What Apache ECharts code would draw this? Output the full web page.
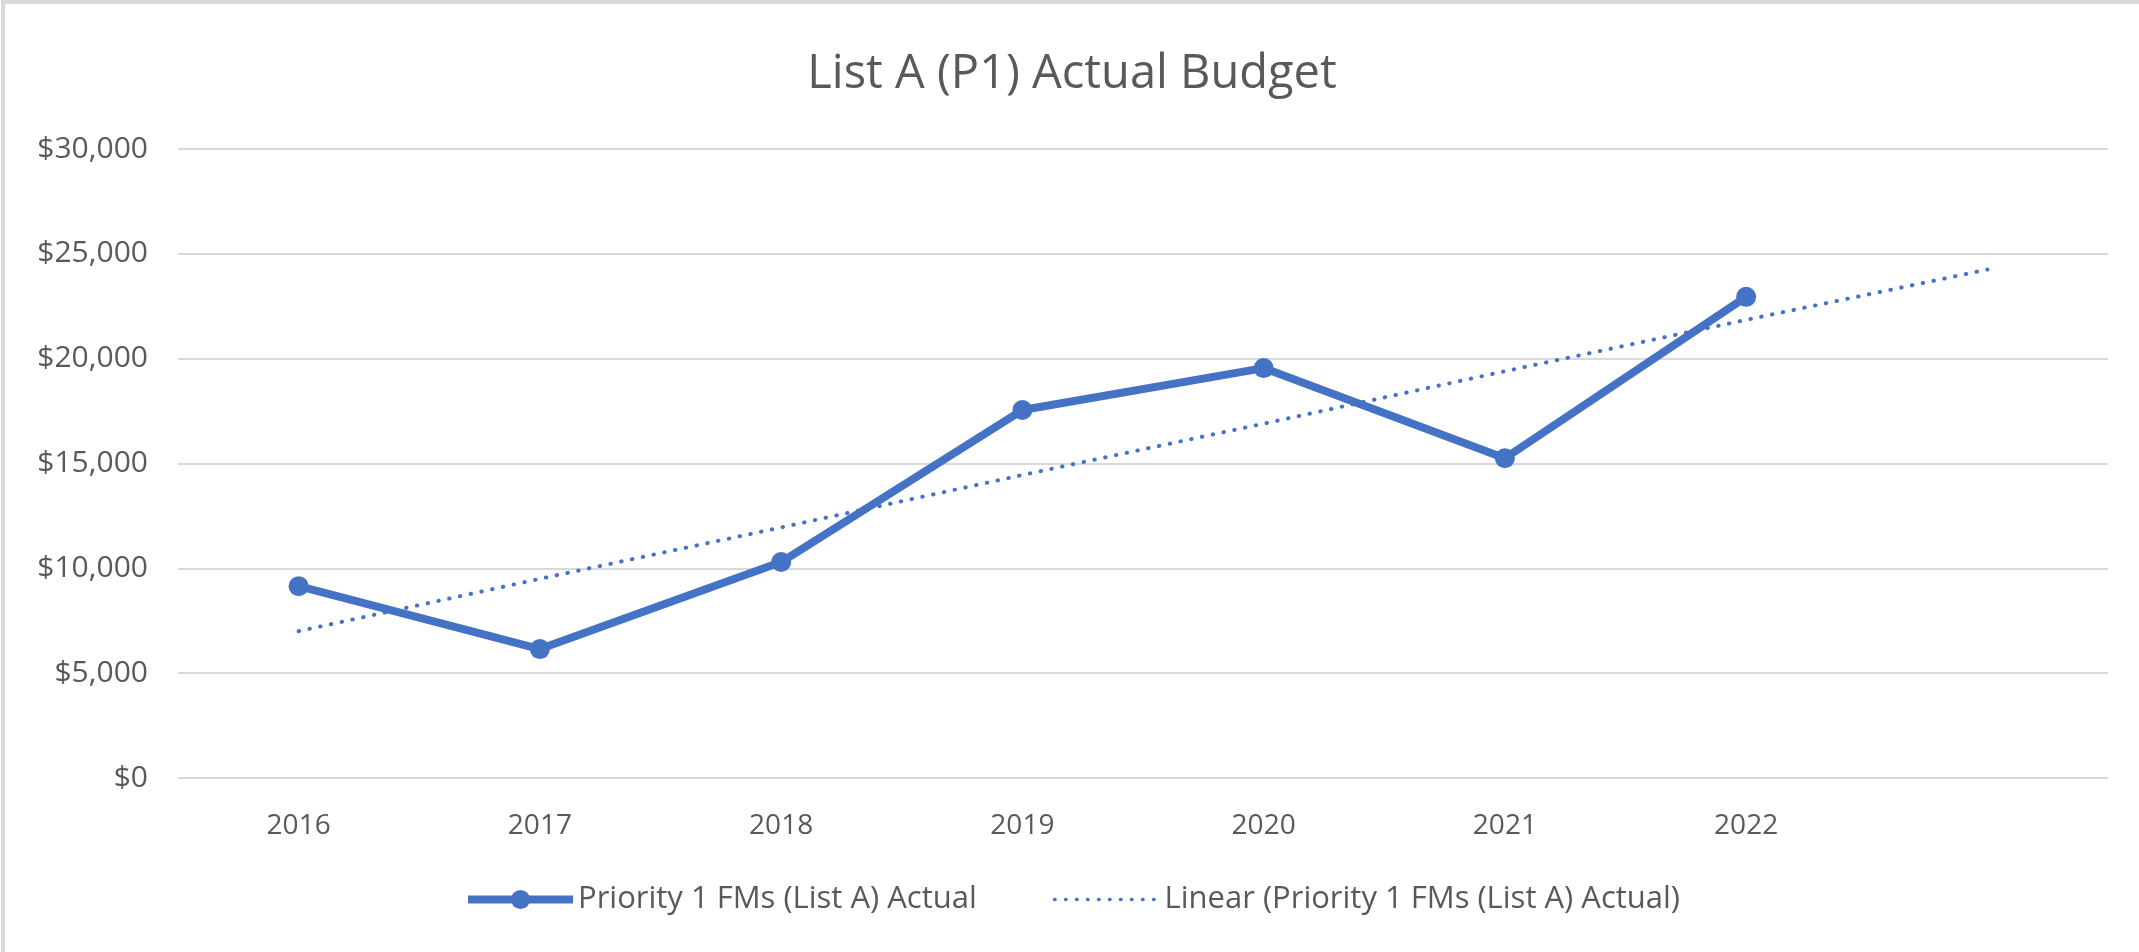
<!DOCTYPE html>
<html>
<head>
<meta charset="utf-8">
<script src="https://cdn.jsdelivr.net/npm/echarts@6/dist/echarts.min.js"></script>
<style>
    html, body { margin: 0; padding: 0; background: #fff; overflow: hidden; }
    #myChart { position: absolute; left: 1px; top: 0; width: 2134px; height: 948px; border-left: 4px solid #d9d9d9; border-top: 4px solid #d9d9d9; }
</style>
</head>
<body>
<div id="myChart"></div>
<script>
var years = ['2016', '2017', '2018', '2019', '2020', '2021', '2022', ''];
var actualValues = [9150, 6150, 10300, 17550, 19550, 15250, 22950];
// trendline (runs one period past the data)
var trendValues = [7000, 9500, 11950, 14450, 16900, 19400, 21850, 24250];
var yTicks = [0, 5000, 10000, 15000, 20000, 25000, 30000];

var actualName = 'Priority 1 FMs (List A) Actual';
var trendName = 'Linear (Priority 1 FMs (List A) Actual)';

function money(v) {
    return '$' + String(v).replace(/\B(?=(\d{3})+(?!\d))/g, ',');
}

var myChart = echarts.init(document.getElementById('myChart'));
var fontFamily = '"Open Sans", "Noto Sans", sans-serif';
var option = {
    color: ['#4472C4'],
    title: {
        text: 'List A (P1) Actual Budget',
        left: 'center',
        top: 42,
        textStyle: { color: '#595959', fontSize: 47, fontWeight: 'normal', fontFamily: fontFamily }
    },
    legend: {
        top: 875,
        left: 'center',
        itemWidth: 105,
        itemHeight: 24,
        itemGap: 76,
        textStyle: { color: '#595959', fontSize: 31, fontFamily: fontFamily },
        data: [
            { name: actualName, lineStyle: { width: 8 } },
            { name: trendName, lineStyle: { width: 3.5 }, itemStyle: { opacity: 0 } }
        ]
    },
    grid: { left: 173, right: 31, top: 145, bottom: 174 },
    xAxis: {
        type: 'category',
        data: years,
        boundaryGap: true,
        axisLine: { show: false },
        axisTick: { show: false },
        axisLabel: { color: '#595959', fontSize: 28, margin: 34, fontFamily: fontFamily }
    },
    yAxis: {
        type: 'value',
        min: yTicks[0],
        max: yTicks[yTicks.length - 1],
        interval: 5000,
        axisLine: { show: false },
        axisTick: { show: false },
        axisLabel: { color: '#595959', fontSize: 30, margin: 30, fontFamily: fontFamily, formatter: money },
        splitLine: { lineStyle: { color: '#d9d9d9', width: 2 } }
    },
    series: [
        {
            name: actualName,
            type: 'line',
            data: actualValues,
            symbol: 'circle',
            symbolSize: 20,
            lineStyle: { width: 8, color: '#4472C4' },
            itemStyle: { color: '#4472C4' },
            z: 3
        },
        {
            name: trendName,
            type: 'line',
            data: trendValues,
            symbol: 'none',
            lineStyle: { width: 4, type: [0.5, 10.5], color: '#4472C4', cap: 'round' },
            itemStyle: { color: '#4472C4' },
            z: 2
        }
    ]
};
myChart.setOption(option);
</script>
</body>
</html>
